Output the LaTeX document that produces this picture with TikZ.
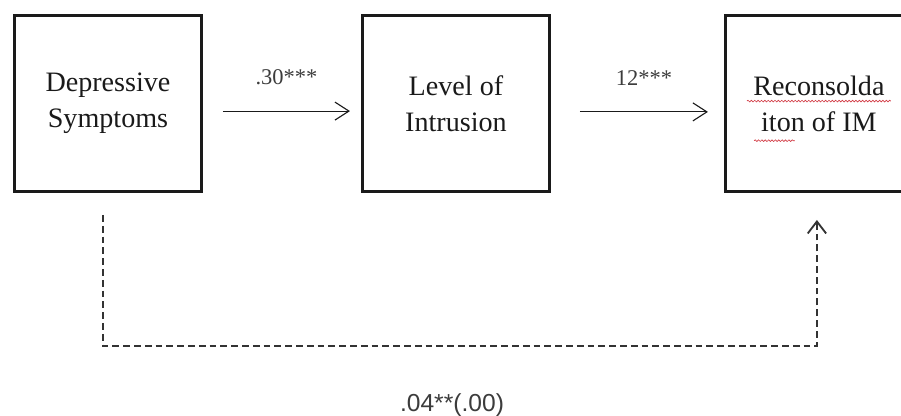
\documentclass[tikz,border=0pt]{standalone}
\usepackage{fontspec}
\setmainfont{Liberation Serif}
\setsansfont{Liberation Sans}
\usepackage{xcolor}
\usetikzlibrary{arrows.meta,positioning,calc,decorations.pathmorphing}
\definecolor{ink}{HTML}{1A1A1A}
\definecolor{dashgrey}{HTML}{333333}
\definecolor{spellred}{HTML}{D23C46}
\tikzset{
  varbox/.style={
    rectangle, draw=ink, line width=2.1pt,
    minimum width=4.675cm, minimum height=4.4cm,
    font=\fontsize{20}{25.5}\selectfont, align=center, text=ink,
    inner sep=2pt
  },
  patharrow/.style={
    -{Straight Barb[length=3.5mm, width=4.5mm]}, line width=0.8pt, color=ink
  },
  directarrow/.style={
    -{Straight Barb[length=3mm, width=4.6mm]}, line width=1.3pt,
    dash pattern=on 0.17cm off 0.1cm, color=dashgrey
  },
  coeflabel/.style={
    font=\fontsize{16}{18}\selectfont, color=ink!85
  },
  totlabel/.style={
    font=\sffamily\fontsize{17.5}{20}\selectfont, color=ink!85
  },
  spellmark/.style={
    decorate, decoration={snake, amplitude=0.6pt, segment length=2.4pt},
    spellred, line width=0.45pt
  },
}
\begin{document}
\begin{tikzpicture}
  \clip (0,0) rectangle (22.525,10.4);

  % variables
  \node[varbox] (dep) at (2.7,7.8125) {Depressive\\Symptoms};
  \node[varbox, right=3.95cm of dep] (lev) {Level of\\Intrusion};
  \node[varbox, right=4.325cm of lev] (rec) {Reconsolda\\iton of IM};

  % spell-check marks
  \draw[spellmark] ([shift={(-1.8,0.06)}]rec.center) -- ([shift={(1.8,0.06)}]rec.center);
  \draw[spellmark] ([shift={(-1.62,-0.93)}]rec.center) -- ([shift={(-0.6,-0.93)}]rec.center);

  % indirect path
  \draw[patharrow] ([shift={(0.5,-0.19)}]dep.east) -- node[coeflabel, yshift=0.85cm] (a1) {.30***} ([shift={(-0.275,-0.19)}]lev.west);
  \draw[patharrow] ([shift={(0.725,-0.21)}]lev.east) -- node[coeflabel, yshift=0.85cm] (a2) {12***} ([shift={(-0.4,-0.21)}]rec.west);

  % direct path
  \coordinate (dstart) at ([shift={(-0.125,-0.55)}]dep.south);
  \coordinate (dbend) at ([yshift=-3.275cm]dstart);
  \coordinate (dend) at ([shift={(-0.05,-0.675)}]rec.south);
  \draw[directarrow] (dstart) -- (dbend) -| (dend);
  \node[totlabel] (tot) at ($(dbend)+(8.725,-1.475)$) {.04**(.00)};
\end{tikzpicture}
\end{document}
